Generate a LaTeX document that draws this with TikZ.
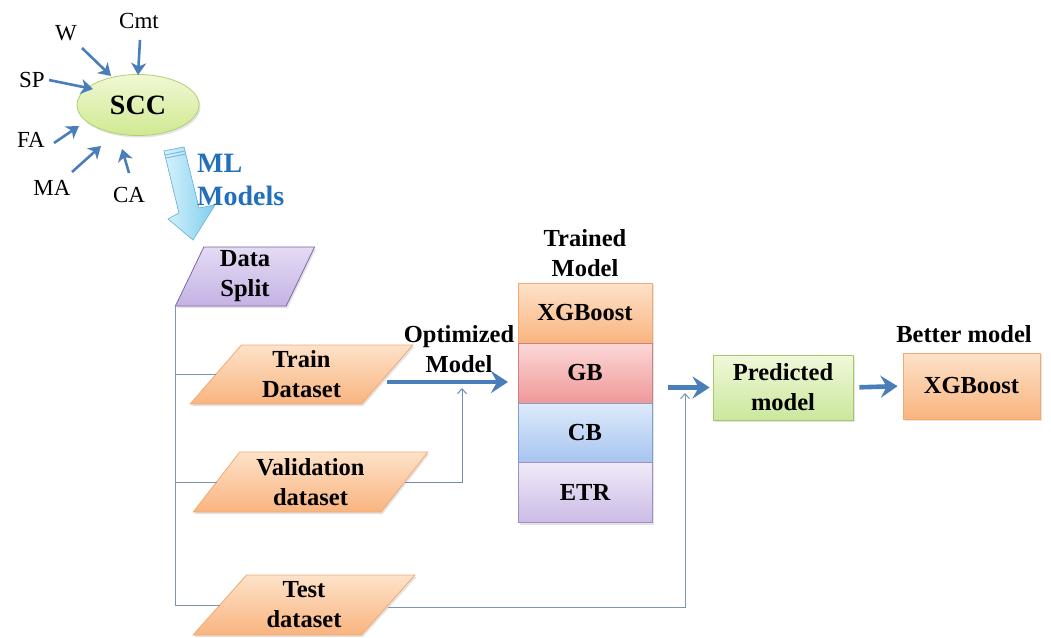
\documentclass[tikz,border=0pt]{standalone}
\usepackage{fontspec}
\setmainfont{Liberation Serif}
\usetikzlibrary{shapes.geometric,arrows.meta,shadows,calc}

\definecolor{flowblue}{RGB}{74,126,187}
\definecolor{thinblue}{RGB}{110,140,190}
\definecolor{greyblue}{RGB}{125,148,180}
\definecolor{mlblue}{RGB}{35,112,186}
\definecolor{stripeblue}{RGB}{110,185,222}
\definecolor{bigarrowedge}{RGB}{115,192,228}

\newcommand{\dgbox}{\fontsize{24.5}{30}\selectfont\bfseries}
\newcommand{\dglabel}{\fontsize{23}{27}\selectfont}
\newcommand{\dgbig}{\fontsize{28}{33}\selectfont\bfseries}

\begin{document}
\begin{tikzpicture}[x=1pt,y=-1pt,
  shade/.style={drop shadow={opacity=0.22,shadow xshift=1.5pt,shadow yshift=-2pt}},
  para/.style={trapezium,trapezium stretches=true,inner sep=0pt,outer sep=0pt,
    align=center,font=\dgbox,line width=0.8pt,shade},
  orangebox/.style={top color={rgb,255:red,253;green,226;blue,201},
    bottom color={rgb,255:red,249;green,180;blue,127},draw={rgb,255:red,242;green,170;blue,112}},
  lilacbox/.style={top color={rgb,255:red,228;green,219;blue,244},
    bottom color={rgb,255:red,196;green,178;blue,228},draw={rgb,255:red,128;green,100;blue,170}},
  stackbox/.style={rectangle,minimum width=134,minimum height=60,inner sep=0pt,outer sep=0pt,
    font=\dgbox,line width=0.8pt},
  gbbox/.style={top color={rgb,255:red,252;green,216;blue,216},
    bottom color={rgb,255:red,240;green,152;blue,152},draw={rgb,255:red,205;green,128;blue,128}},
  cbbox/.style={top color={rgb,255:red,222;green,234;blue,251},
    bottom color={rgb,255:red,166;green,196;blue,240},draw={rgb,255:red,128;green,158;blue,208}},
  etrbox/.style={top color={rgb,255:red,240;green,234;blue,247},
    bottom color={rgb,255:red,203;green,187;blue,230},draw={rgb,255:red,160;green,140;blue,200}},
  greenbox/.style={top color={rgb,255:red,240;green,248;blue,218},
    bottom color={rgb,255:red,203;green,231;blue,156},draw={rgb,255:red,165;green,200;blue,106}},
  lbl/.style={font=\dglabel,inner sep=0pt},
  title/.style={font=\dgbox,align=center,inner sep=0pt},
  inarrow/.style={draw=flowblue,line width=2.6pt,-{Stealth[length=12pt,width=15pt,inset=3.5pt]}},
  flow/.style={draw=flowblue,line width=4.6pt,-{Stealth[length=17pt,width=22pt,inset=6pt]}},
  feed/.style={draw=thinblue,line width=1pt,-{Straight Barb[length=5pt,width=9pt]}},
  branch/.style={draw=greyblue,line width=1pt}]

\useasboundingbox (0,0) rectangle (1051,637);
\fill[white] (0,0) rectangle (1051,637);

% ---- inputs feeding the SCC ellipse ----
\node[ellipse,minimum width=122,minimum height=61,inner sep=0pt,line width=0.8pt,shade,
  top color={rgb,255:red,240;green,248;blue,212},bottom color={rgb,255:red,208;green,233;blue,145},
  draw={rgb,255:red,176;green,208;blue,116},font=\dgbig] (scc) at (138,105) {SCC};

\node[lbl,anchor=base] (cmt) at (139,28) {Cmt};
\node[lbl,anchor=base] (w)   at (66,40)  {W};
\node[lbl,anchor=base] (sp)  at (32,87)  {SP};
\node[lbl,anchor=base] (fa)  at (31,147) {FA};
\node[lbl,anchor=base] (ma)  at (52,195) {MA};
\node[lbl,anchor=base] (ca)  at (129,202) {CA};

\coordinate (cmtA) at (140,40);  \coordinate (cmtB) at (138,75);
\coordinate (wA)   at (82,48);   \coordinate (wB)   at (111,76);
\coordinate (spA)  at (49,80);   \coordinate (spB)  at (93,89);
\coordinate (faA)  at (54,143);  \coordinate (faB)  at (79,126);
\coordinate (maA)  at (72,172);  \coordinate (maB)  at (101,146);
\coordinate (caA)  at (129,173); \coordinate (caB)  at (122,149);
\foreach \s in {cmt,w,sp,fa,ma,ca} \draw[inarrow] (\s A) -- (\s B);

% ---- broad "ML Models" arrow ----
\filldraw[draw=bigarrowedge,line width=0.7pt,
  left color={rgb,255:red,215;green,242;blue,252},right color={rgb,255:red,128;green,206;blue,238}]
  (164,151) -- (184,147) -- (199,208) -- (215,205) -- (193,240) -- (168,219) -- (179,213) -- cycle;
\draw[stripeblue,line width=0.8pt] (165,155) -- (185,151);
\draw[stripeblue,line width=0.8pt] (166,158) -- (186,154);
\node[font=\dgbig,text=mlblue,align=left,anchor=west,inner sep=0pt] (ml) at (197,180) {ML\\Models};

% ---- data split and the three datasets ----
\node[para,lilacbox,trapezium left angle=71.3,trapezium right angle=108.7,
  minimum width=140,minimum height=59] (split) at (245,276.5) {Data\\Split};
\node[para,orangebox,trapezium left angle=54.6,trapezium right angle=125.4,
  minimum width=223,minimum height=59] (train) at (301.5,374.5) {Train\\Dataset};
\node[para,orangebox,trapezium left angle=53,trapezium right angle=127,
  minimum width=235,minimum height=60] (val) at (310.5,482) {Validation\\dataset};
\node[para,orangebox,trapezium left angle=53,trapezium right angle=127,
  minimum width=222,minimum height=60] (test) at (304,605) {Test\\dataset};

% ---- trained model stack ----
\node[stackbox,orangebox,shade] (xgb) at (585,313) {XGBoost};
\node[stackbox,gbbox,shade]     (gb)  at (585,373) {GB};
\node[stackbox,cbbox,shade]     (cb)  at (585,433) {CB};
\node[stackbox,etrbox,shade]    (etr) at (585,492.5) {ETR};
\node[title] (trained) at (585,253.5) {Trained\\Model};
\node[title] (optim) at (459,349.5) {Optimized\\Model};

% ---- prediction ----
\node[rectangle,minimum width=140,minimum height=65,inner sep=0pt,align=center,font=\dgbox,
  line width=0.8pt,greenbox,shade] (pred) at (783,387.5) {Predicted\\model};
\node[rectangle,minimum width=137,minimum height=66,inner sep=0pt,font=\dgbox,
  line width=0.8pt,orangebox,shade] (best) at (971.5,386) {XGBoost};
\node[font=\dgbox,inner sep=0pt,anchor=base] (bestlbl) at (964,342) {Better model};

% ---- connectors ----
\coordinate (vtip) at (462,388);
\coordinate (ttip) at (685,393);
\draw[branch] (split.bottom left corner) -- (split.bottom left corner |- test.west) -- (test.west);
\draw[branch] (split.bottom left corner |- train.west) -- (train.west);
\draw[branch] (split.bottom left corner |- val.west) -- (val.west);
\draw[feed] (val.east) -| (vtip);
\draw[feed,draw=greyblue] ([yshift=-2pt]test.east) -| (ttip);

\draw[flow,shorten >=10pt] ([yshift=-7.5pt]train.east) -- ([yshift=-7.5pt]train.east -| gb.west);
\draw[flow,shorten <=16pt,shorten >=3pt] (pred.west -| gb.east) -- (pred.west);
\draw[flow,shorten <=6pt,shorten >=5pt] (pred.east) -- (best.west);
\end{tikzpicture}
\end{document}
